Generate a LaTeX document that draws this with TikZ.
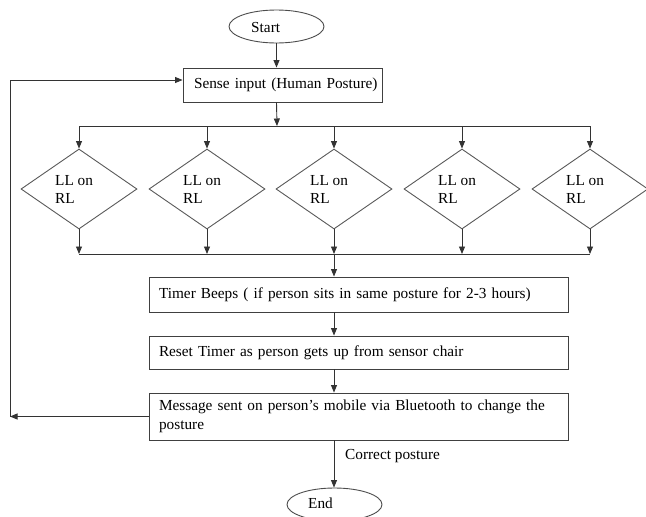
\documentclass[tikz,border=0pt]{standalone}
\usepackage{fontspec}
\setmainfont{Liberation Serif}
\usetikzlibrary{arrows.meta,shapes.geometric}
\begin{document}
\begin{tikzpicture}[x=1pt,y=-1pt,
  every node/.style={font=\fontsize{15.3}{18}\selectfont},
  ln/.style={draw=black!80, line width=0.9pt},
  arr/.style={ln,-{Triangle[length=7.5pt,width=6pt]}},
  terminal/.style={ellipse, draw=black!70, line width=0.9pt, minimum width=95pt, minimum height=33pt, inner sep=0pt},
  procbox/.style={rectangle, draw=black!75, line width=0.9pt, align=left, inner xsep=10pt, inner ysep=2pt},
  decision/.style={diamond, draw=black!65, line width=0.9pt, minimum width=116pt, minimum height=80pt, inner sep=0pt},
  lbl/.style={inner sep=0pt, align=left}]
\useasboundingbox (0,0) rectangle (646,517);

% terminals
\node[terminal] (start) at (276.5,26.5) {};
\node[lbl, anchor=base west] (starttxt) at (251,32) {Start};

% sense
\node[procbox, text width=177pt, inner xsep=11pt, minimum height=34pt] (sense) at (282.5,85) {\mbox{Sense input (Human Posture)}};

\coordinate (bustop) at (277,126);
\coordinate (busbot) at (334,254);

% decisions
\foreach \i/\x in {1/79,2/207,3/334,4/462,5/590}{
  \node[decision] (d\i) at (\x,189) {};
  \node[lbl, anchor=west] (dt\i) at ([xshift=-24pt,yshift=-0.5pt]d\i.center) {LL on\\RL};
}

% boxes
\node[procbox, text width=399pt, minimum height=35pt] (timer) at (358.5,294.5) {Timer Beeps ( if person sits in same posture for 2-3 hours)};
\node[procbox, text width=399pt, minimum height=33pt] (reset) at (358.5,352.5) {Reset Timer as person gets up from sensor chair};
\node[procbox, text width=399pt, minimum height=47pt, font=\fontsize{15.3}{19.5}\selectfont] (msg) at (358.5,416.5) {Message sent on person’s mobile via Bluetooth to change the\\posture};

\node[terminal] (endn) at (334.5,504.5) {};
\node[lbl, anchor=base west] (endtxt) at (308,508) {End};
\node[lbl, anchor=base west] (corr) at (345,459) {Correct posture};

% connectors
\draw[arr] (start.south) -- (start.south |- sense.north);
\draw[arr] (start.south |- sense.south) -- (bustop);
\draw[ln] (d1.north |- bustop) -- (d5.north |- bustop);
\draw[ln] (d1.south |- busbot) -- (d5.south |- busbot);
\foreach \i in {1,...,5}{
  \draw[arr] (d\i.north |- bustop) -- (d\i.north);
  \draw[arr] (d\i.south) -- (d\i.south |- busbot);
}
\draw[arr] (busbot) -- (busbot |- timer.north);
\draw[arr] (busbot |- timer.south) -- (busbot |- reset.north);
\draw[arr] (busbot |- reset.south) -- (busbot |- msg.north);
\draw[arr] (busbot |- msg.south) -- (busbot |- endn.north);

% feedback loop
\coordinate (loopb) at (10,416.5);
\coordinate (loopt) at (10,80);
\draw[arr] (msg.west) -- (loopb);
\draw[ln] (loopb) -- (loopt);
\draw[arr] (loopt) -- (loopt -| sense.west);
\end{tikzpicture}
\end{document}
